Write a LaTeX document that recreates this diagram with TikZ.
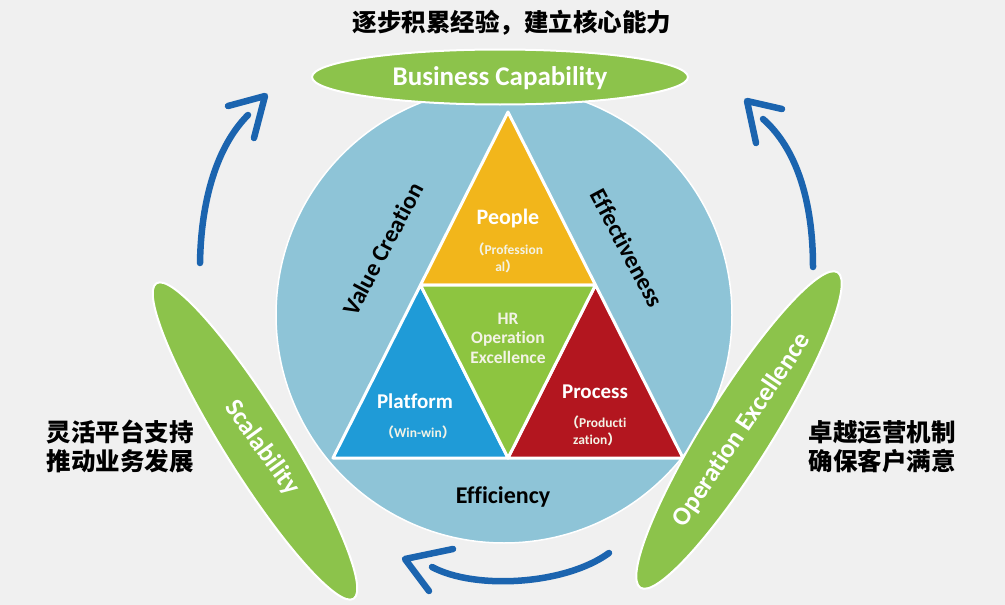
\documentclass[tikz,border=0pt]{standalone}
\usepackage{fontspec}
\setmainfont{Carlito}[Ligatures={NoCommon}]
\newfontfamily\cjk{Noto Sans CJK SC}
\usetikzlibrary{shapes.geometric,calc}
\definecolor{bg}{HTML}{F0F0F0}
\definecolor{circ}{HTML}{8EC4D7}
\definecolor{peoplec}{HTML}{F2B61B}
\definecolor{platc}{HTML}{1F9BD7}
\definecolor{procc}{HTML}{B3161F}
\definecolor{hrc}{HTML}{8DC540}
\definecolor{leafgreen}{HTML}{8CC34B}
\definecolor{arrowblue}{HTML}{1B64AF}
\definecolor{pale}{HTML}{F3F3E6}
\tikzset{
  lbl/.style={text=black, font=\bfseries\fontsize{24}{28}\selectfont, inner sep=0pt},
  wt/.style={text=white, font=\bfseries\fontsize{21}{24}\selectfont, inner sep=0pt},
  subt/.style={text=pale, font=\bfseries\fontsize{13.5}{17}\selectfont, align=center, inner sep=0pt},
  hrt/.style={text=pale, font=\bfseries\fontsize{17.5}{19.5}\selectfont, align=center, inner sep=0pt},
  leaf/.style={ellipse, fill=leafgreen, draw=white, line width=2pt, inner sep=0pt},
  leaftext/.style={text=white, font=\bfseries\fontsize{26}{30}\selectfont, inner sep=0pt},
  arr/.style={draw=arrowblue, line width=6.5pt, line cap=round, line join=round},
  cn/.style={text=black, font=\cjk\bfseries\fontsize{24.5}{29}\selectfont, align=center, inner sep=0pt},
  piece/.style={draw=white, line width=3pt, line join=round}
}
\begin{document}
\begin{tikzpicture}[x=1pt,y=-1pt]
\useasboundingbox (0,0) rectangle (1005,605);
\fill[bg] (0,0) rectangle (1005,605);

% big circle
\node[circle, fill=circ, draw=white, line width=1.5pt, minimum size=456pt, inner sep=0pt] (circ) at (504,315) {};

% triangle corners
\coordinate (A) at (508,112);
\coordinate (BL) at (333,458);
\coordinate (BR) at (683,458);
\coordinate (ML) at ($(A)!0.5!(BL)$);
\coordinate (MR) at ($(A)!0.5!(BR)$);
\coordinate (MB) at ($(BL)!0.5!(BR)$);

\filldraw[piece, fill=peoplec] (A) -- (ML) -- (MR) -- cycle;
\filldraw[piece, fill=platc] (ML) -- (BL) -- (MB) -- cycle;
\filldraw[piece, fill=procc] (MR) -- (MB) -- (BR) -- cycle;
\filldraw[piece, fill=hrc] (ML) -- (MR) -- (MB) -- cycle;

% triangle texts
\node[wt, font=\bfseries\fontsize{22}{24}\selectfont] (people) at (508,219) {People};
\node[subt] (peoplesub) at (507,258) {{\cjk （}Profession\\al{\cjk ）}};
\node[hrt] (hr) at (508,338) {HR\\Operation\\Excellence};
\node[wt] (platform) at (415,401) {Platform};
\node[subt] (platsub) at (418,432) {{\cjk （}Win-win{\cjk ）}};
\node[wt] (process) at (595,392) {Process};
\node[subt, align=left] (procsub) at (596,431) {{\cjk （}Producti\\\hspace*{0.55em}zation{\cjk ）}};

% side labels
\node[lbl, rotate=62] (value) at (383,249) {Value Creation};
\node[lbl, rotate=-62] (effect) at (627,248) {Effectiveness};
\node[lbl] (eff) at (503,497) {Efficiency};

% leaves
\node[leaf, minimum width=372pt, minimum height=64pt, rotate=-58] (scal) at (255,441) {};
\node[leaftext, rotate=-54] (scalt) at (262,448) {Scalability};
\node[leaf, minimum width=372pt, minimum height=68pt, rotate=58] (opex) at (739,430) {};
\node[leaftext, rotate=56] (opext) at (742,430) {Operation Excellence};
\node[leaf, minimum width=376pt, minimum height=55pt] (bc) at (500,77) {};
\node[leaftext, font=\bfseries\fontsize{27}{30}\selectfont] (bct) at (500,78) {Business Capability};

% Chinese texts
\node[cn] (top) at (512,23) {逐步积累经验，建立核心能力};
\node[cn] (left) at (120,447) {灵活平台支持\\推动业务发展};
\node[cn] (right) at (882,447) {卓越运营机制\\确保客户满意};

% arrows
\coordinate (a1s) at (200,263);
\coordinate (a1e) at (248,115);
\coordinate (h1a) at (228,106);
\coordinate (h1t) at (265,96);
\coordinate (h1b) at (254,138);
\draw[arr] (a1s) .. controls (201,200) and (217,146) .. (a1e);
\draw[arr] (h1a) -- (h1t) -- (h1b);

\coordinate (a2s) at (813,267);
\coordinate (a2e) at (763,119);
\coordinate (h2a) at (782,109);
\coordinate (h2t) at (747,101);
\coordinate (h2b) at (756,143);
\draw[arr] (a2s) .. controls (813,200) and (796,148) .. (a2e);
\draw[arr] (h2a) -- (h2t) -- (h2b);

\coordinate (a3s) at (609,553);
\coordinate (a3e) at (432,567);
\coordinate (h3a) at (453,549);
\coordinate (h3t) at (405,559);
\coordinate (h3b) at (429,591);
\draw[arr] (a3s) .. controls (565,585) and (475,590) .. (a3e);
\draw[arr] (h3a) -- (h3t) -- (h3b);
\end{tikzpicture}
\end{document}
